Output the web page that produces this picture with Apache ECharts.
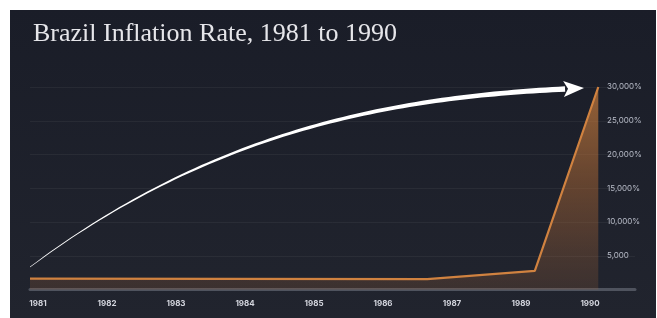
<!DOCTYPE html>
<html><head><meta charset="utf-8">
<script src="https://cdn.jsdelivr.net/npm/echarts@6/dist/echarts.min.js"></script>
<style>
html,body{margin:0;padding:0;background:#fff;width:657px;height:318px;overflow:hidden}
#c{position:absolute;left:10px;top:10px;width:646px;height:308px;background:linear-gradient(#1a1d28,#21242e)}
</style></head><body><div id="c"></div>
<script>
// Category labels (evenly spaced, as printed on the reference)
const yearLabels = ['1981', '1982', '1983', '1984', '1985', '1986', '1987', '1989', '1990'];
// Inflation series: x = position along the year axis (label index), y = inflation %
const inflationX = [-0.116, 5.64, 7.2, 8.12];
const inflationY = [1600, 1550, 2750, 30000];
// Y tick labels (0 .. 30,000 step 5,000)
const yTickLabels = ['', '5,000', '10,000%', '15,000%', '20,000%', '25,000%', '30,000%'];
// Decorative arrow: cubic Bezier (start, control 1, control 2, end) in data space
const arrowX = [-0.116, 2.565, 5.174, 7.638];
const arrowY = [3325, 23830, 28447, 29703];

const chart = echarts.init(document.getElementById('c'), null, {renderer: 'canvas'});

function arrowRender(params, api) {
  if (params.dataIndex !== 0) return null;
  const P = arrowX.map((x, i) => api.coord([x, arrowY[i]]));
  const N = 80, dense = [];
  for (let k = 0; k <= N; k++) {
    const t = k / N, u = 1 - t;
    const c0 = u * u * u, c1 = 3 * u * u * t, c2 = 3 * u * t * t, c3 = t * t * t;
    dense.push([c0 * P[0][0] + c1 * P[1][0] + c2 * P[2][0] + c3 * P[3][0],
                c0 * P[0][1] + c1 * P[1][1] + c2 * P[2][1] + c3 * P[3][1]]);
  }
  const n = dense.length;
  const left = [], right = [];
  let lastDir = [1, 0];
  for (let i = 0; i < n; i++) {
    const a = dense[Math.max(i - 1, 0)], b = dense[Math.min(i + 1, n - 1)];
    let dx = b[0] - a[0], dy = b[1] - a[1];
    const len = Math.hypot(dx, dy) || 1;
    dx /= len; dy /= len;
    lastDir = [dx, dy];
    const w = 0.25 + 2.45 * Math.pow(i / (n - 1), 0.9);
    left.push([dense[i][0] - dy * w, dense[i][1] + dx * w]);
    right.push([dense[i][0] + dy * w, dense[i][1] - dx * w]);
  }
  const poly = left.concat(right.reverse());
  const end = dense[n - 1];
  const d = lastDir;
  const tip = [end[0] + d[0] * 19, end[1] + d[1] * 19];
  const b1 = [end[0] - d[1] * 8 - d[0] * 1.5, end[1] + d[0] * 8 - d[1] * 1.5];
  const b2 = [end[0] + d[1] * 8 - d[0] * 1.5, end[1] - d[0] * 8 - d[1] * 1.5];
  const notch = [end[0] + d[0] * 3, end[1] + d[1] * 3];
  return {
    type: 'group',
    children: [
      {type: 'polygon', shape: {points: poly}, style: {fill: '#ffffff'}},
      {type: 'polygon', shape: {points: [tip, b1, notch, b2]}, style: {fill: '#ffffff'}}
    ]
  };
}

chart.setOption({
  backgroundColor: 'transparent',
  animation: false,
  title: {
    text: 'Brazil Inflation Rate, 1981 to 1990',
    left: 18, top: 6,
    textStyle: {fontFamily: 'Liberation Serif', fontWeight: 'normal', fontSize: 26, color: '#e6e6ea'}
  },
  grid: {left: 20, right: 21, top: 77, bottom: 28.5},
  xAxis: {
    type: 'value', min: -0.116, max: 8.652,
    axisLine: {show: true, lineStyle: {color: '#4f535e', width: 3}},
    axisTick: {show: false},
    splitLine: {show: false},
    axisLabel: {
      customValues: yearLabels.map((_, i) => i),
      formatter: v => yearLabels[Math.round(v)] || '',
      color: '#d4d6de', fontSize: 8, fontWeight: 'bold', fontFamily: 'Inter', margin: 10
    }
  },
  yAxis: {
    type: 'value', position: 'right', offset: -37, min: 0, max: 30000, interval: 5000,
    axisLine: {show: false}, axisTick: {show: false},
    splitLine: {show: true, lineStyle: {color: 'rgba(255,255,255,0.05)', width: 1}},
    axisLabel: {
      formatter: v => yTickLabels[Math.round(v / 5000)] || '',
      color: '#b8bcc8', fontSize: 8, fontFamily: 'Inter', margin: 9
    }
  },
  series: [
    {
      type: 'line',
      data: inflationX.map((x, i) => [x, inflationY[i]]),
      symbol: 'none',
      lineStyle: {color: '#d08240', width: 2.2},
      areaStyle: {
        color: new echarts.graphic.LinearGradient(0, 0, 0, 1, [
          {offset: 0, color: 'rgba(205,128,62,1)'},
          {offset: 0.5, color: 'rgba(165,100,52,0.72)'},
          {offset: 1, color: 'rgba(160,100,58,0.3)'}
        ])
      },
      z: 2
    },
    {
      type: 'custom',
      data: [[arrowX[0], arrowY[0]]],
      renderItem: arrowRender,
      clip: false,
      silent: true,
      z: 3
    }
  ]
});
</script></body></html>
